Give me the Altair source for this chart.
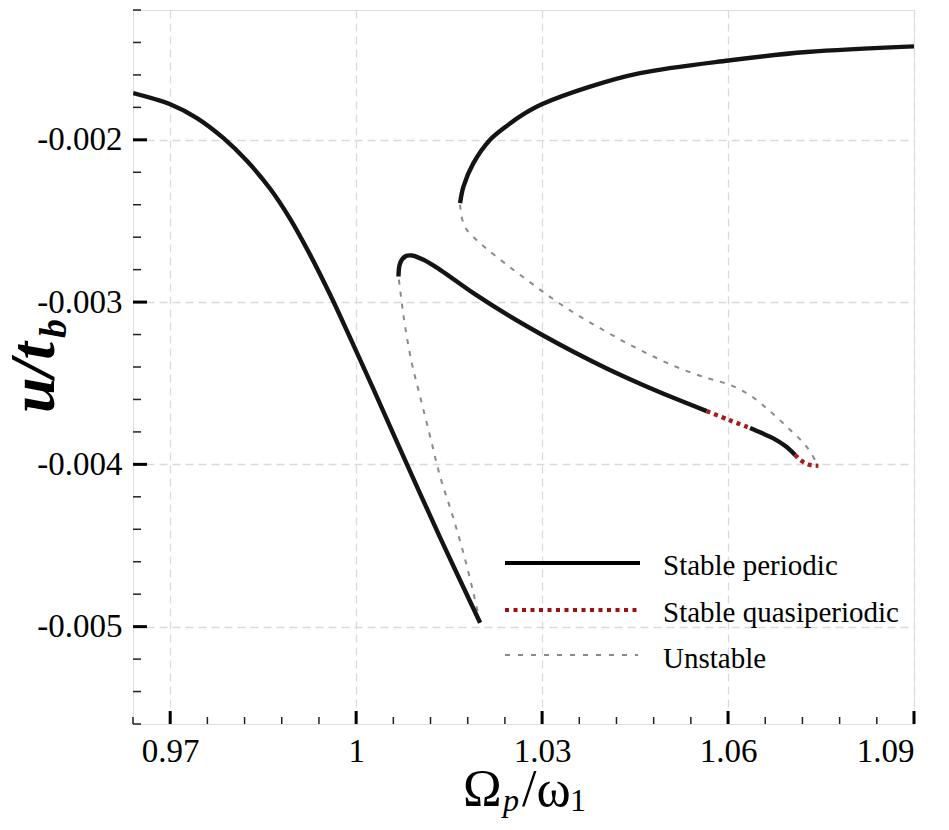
import altair as alt
import pandas as pd

# ---- data ----
stable_a_x = [0.96403, 0.9700, 0.97431, 0.97860, 0.98240, 0.98610, 0.98935, 0.99258, 0.99581, 0.99903, 1.00279, 1.00818, 1.01355, 1.0200]
stable_a_y = [-0.001712, -0.001781, -0.001866, -0.001990, -0.002131, -0.002300, -0.002487, -0.002709, -0.002955, -0.003220, -0.003536, -0.003999, -0.004451, -0.004976]

unstable_b_x = [1.0200, 1.01892, 1.01731, 1.01543, 1.01355, 1.01194, 1.01032, 1.00898, 1.00790, 1.00737, 1.00683]
unstable_b_y = [-0.004976, -0.004793, -0.004547, -0.004300, -0.004075, -0.003828, -0.003582, -0.003376, -0.003150, -0.003006, -0.002842]

stable_c_x = [1.00683, 1.00710, 1.00790, 1.00898, 1.01086, 1.01355, 1.01892, 1.02431, 1.02968, 1.03505, 1.04043, 1.04581, 1.05118, 1.05656]
stable_c_y = [-0.002842, -0.002760, -0.002719, -0.002713, -0.002739, -0.002801, -0.002945, -0.003076, -0.003195, -0.003306, -0.003409, -0.003503, -0.003590, -0.003672]

quasi_1_x = [1.05656, 1.06005, 1.06355]
quasi_1_y = [-0.003672, -0.003725, -0.003776]

stable_c2_x = [1.06355, 1.06543, 1.06731, 1.06919, 1.07081]
stable_c2_y = [-0.003776, -0.003807, -0.003840, -0.003886, -0.003941]

quasi_2_x = [1.07081, 1.07161, 1.07295, 1.07457]
quasi_2_y = [-0.003941, -0.003972, -0.004001, -0.004009]

unstable_d_x = [1.01677, 1.01705, 1.01786, 1.01947, 1.02108, 1.02431, 1.02807, 1.03182, 1.03560, 1.03936, 1.04311, 1.04689, 1.05118, 1.05548, 1.05763, 1.06032, 1.06355, 1.06677, 1.07000, 1.07269, 1.07457]
unstable_d_y = [-0.002400, -0.002482, -0.002555, -0.002619, -0.002672, -0.002770, -0.002878, -0.002983, -0.003077, -0.003161, -0.003242, -0.003315, -0.003392, -0.003454, -0.003479, -0.003510, -0.003574, -0.003673, -0.003787, -0.003892, -0.004009]

stable_e_x = [1.01677, 1.01731, 1.01892, 1.02161, 1.02431, 1.02645, 1.02995, 1.03774, 1.04581, 1.06005, 1.07269, 1.0900]
stable_e_y = [-0.002390, -0.002288, -0.002144, -0.002000, -0.001914, -0.001855, -0.001781, -0.001672, -0.001589, -0.001511, -0.001459, -0.001424]

x_major = [0.97, 1.0, 1.03, 1.06, 1.09]
x_minor = [0.964, 0.976, 0.982, 0.988, 0.994, 1.006, 1.012, 1.018, 1.024, 1.036, 1.042, 1.048, 1.054, 1.066, 1.072, 1.078, 1.084]
y_major = [-0.005, -0.004, -0.003, -0.002]
y_minor = [-0.0056, -0.0054, -0.0052, -0.0048, -0.0046, -0.0044, -0.0042, -0.0038, -0.0036, -0.0034, -0.0032,
           -0.0028, -0.0026, -0.0024, -0.0022, -0.0018, -0.0016, -0.0014, -0.0012]

legend_labels = ["Stable periodic", "Stable quasiperiodic", "Unstable"]

# ---- build tables ----
def seg_table(groups):
    rows = []
    for name, xs, ys in groups:
        for i, (a, b) in enumerate(zip(xs, ys)):
            rows.append({"seg": name, "i": i, "x": a, "y": b})
    return pd.DataFrame(rows)

stable_df = seg_table([("A", stable_a_x, stable_a_y), ("C", stable_c_x, stable_c_y),
                       ("C2", stable_c2_x, stable_c2_y), ("E", stable_e_x, stable_e_y)])
quasi_df = seg_table([("Q1", quasi_1_x, quasi_1_y), ("Q2", quasi_2_x, quasi_2_y)])
unstable_df = seg_table([("B", unstable_b_x, unstable_b_y), ("D", unstable_d_x, unstable_d_y)])

W, H = 781, 714
FONT = "Liberation Serif, Times New Roman, serif"

xs = alt.Scale(domain=[0.964, 1.09], nice=False, zero=False)
ys = alt.Scale(domain=[-0.0056, -0.0012], nice=False, zero=False)

xaxis = alt.Axis(values=x_major, title=None, ticks=False, tickSize=0, domain=False,
                 labelExpr="format(datum.value, '~g')", labelPadding=11,
                 labelFont=FONT, labelFontSize=33, labelColor="black",
                 grid=True, gridDash=[8, 5], gridColor="#dadada", gridWidth=1.3)
yaxis = alt.Axis(values=y_major, title=None, ticks=False, tickSize=0, domain=False,
                 labelExpr="'-' + format(-datum.value, '~g')", labelPadding=11,
                 labelFont=FONT, labelFontSize=33, labelColor="black",
                 grid=True, gridDash=[8, 5], gridColor="#dadada", gridWidth=1.3)

X = alt.X("x:Q", scale=xs, axis=xaxis)
Y = alt.Y("y:Q", scale=ys, axis=yaxis)

def curve(df, **mk):
    return alt.Chart(df).mark_line(clip=True, interpolate="catmull-rom", **mk).encode(
        x=X, y=Y, detail="seg:N", order="i:Q")

unstable = curve(unstable_df, color="#8a8a8a", strokeWidth=2, strokeDash=[5, 7])
stable = curve(stable_df, color="#141414", strokeWidth=4.4)
quasi = curve(quasi_df, color="#a51d1d", strokeWidth=4.4, strokeDash=[4, 4])

# inward ticks
xmaj = alt.Chart(pd.DataFrame({"x": x_major})).mark_rule(color="black", strokeWidth=3).encode(
    x=X, y=alt.value(H), y2=alt.value(H - 13))
xmin = alt.Chart(pd.DataFrame({"x": x_minor})).mark_rule(color="#222", strokeWidth=1.5).encode(
    x=X, y=alt.value(H), y2=alt.value(H - 7))
ymaj = alt.Chart(pd.DataFrame({"y": y_major})).mark_rule(color="black", strokeWidth=3).encode(
    y=Y, x=alt.value(0), x2=alt.value(14))
ymin = alt.Chart(pd.DataFrame({"y": y_minor})).mark_rule(color="#222", strokeWidth=1.5).encode(
    y=Y, x=alt.value(0), x2=alt.value(8))

# legend (manual)
leg_base = alt.Chart(pd.DataFrame({"k": [0]}))
leg1 = leg_base.mark_rule(color="black", strokeWidth=4).encode(
    x=alt.value(372), x2=alt.value(507), y=alt.value(553))
leg2 = leg_base.mark_rule(color="#a01010", strokeWidth=4, strokeDash=[4, 4.5]).encode(
    x=alt.value(372), x2=alt.value(505), y=alt.value(600))
leg3 = leg_base.mark_rule(color="#8a8a8a", strokeWidth=2, strokeDash=[5, 8]).encode(
    x=alt.value(372), x2=alt.value(505), y=alt.value(645))
leg_text = []
for lab, yy in zip(legend_labels, [565, 612, 658]):
    leg_text.append(alt.Chart(pd.DataFrame({"t": [lab]})).mark_text(
        font=FONT, fontSize=29, align="left", baseline="alphabetic", color="black").encode(
        x=alt.value(530), y=alt.value(yy), text="t:N"))

# axis titles made from text pieces (for sub-scripts)
def txt(s, x, y, size, style="normal", weight="normal", angle=0):
    kw = dict(font=FONT, fontSize=size, align="left", baseline="alphabetic",
              color="black", fontStyle=style, fontWeight=weight)
    if angle:
        kw["angle"] = angle
    return alt.Chart(pd.DataFrame({"t": [s]})).mark_text(**kw).encode(
        x=alt.value(x), y=alt.value(y), text="t:N")

xt = [txt("\u03a9", 330, 796, 52), txt("p", 370, 801, 32, style="italic"),
      txt("/\u03c9", 389, 796, 52), txt("1", 437, 801, 32)]
yt = [txt("u/t", -79, 403, 64, style="italic", weight="bold", angle=270),
      txt("b", -67, 328, 38, style="italic", weight="bold", angle=270)]

chart = alt.layer(unstable, stable, quasi, xmin, xmaj, ymin, ymaj,
                  leg1, leg2, leg3, *leg_text, *xt, *yt).properties(
    width=W, height=H,
    autosize=alt.AutoSizeParams(type="none"),
    padding={"left": 125, "top": 2, "right": 27, "bottom": 94},
).configure_view(stroke="black", strokeWidth=3).configure(background="white")

chart.save("out.html", embed_options={"renderer": "svg", "actions": False})
